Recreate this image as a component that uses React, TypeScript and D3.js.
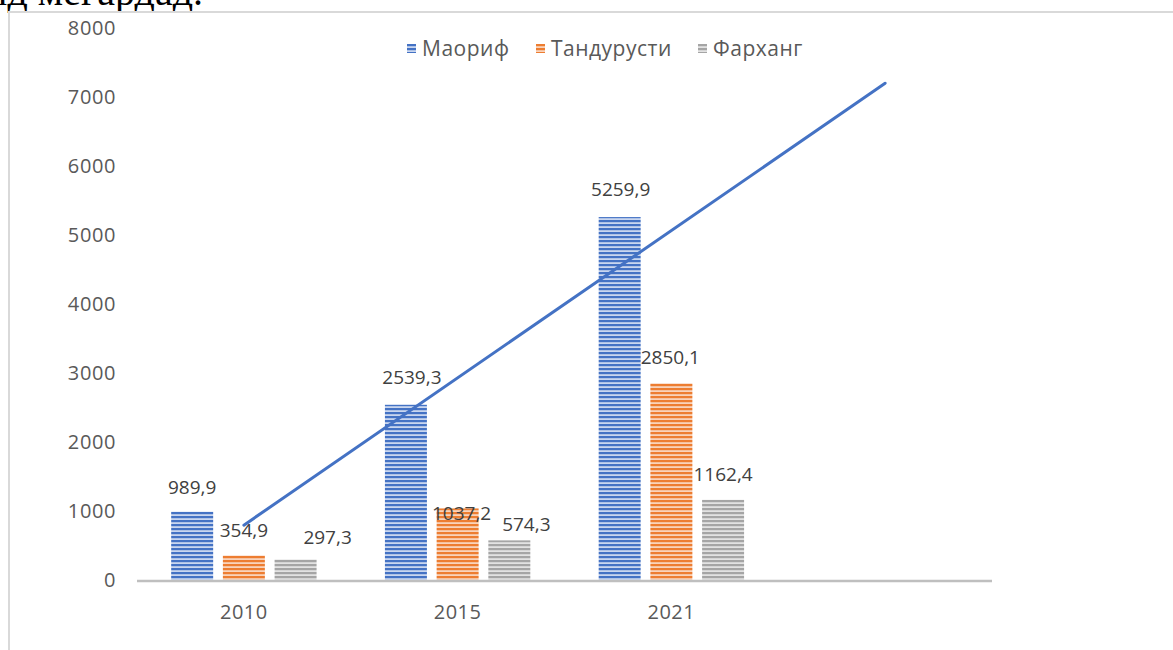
import React, { useEffect, useRef } from 'react';
import * as d3 from 'd3';

// categories (the last one is the empty slot used by the trendline forecast)
const years = ['2010', '2015', '2021', ''];
const seriesNames = ['Маориф', 'Тандурусти', 'Фарханг'];
const maorif = [989.9, 2539.3, 5259.9];
const tandurusti = [354.9, 1037.2, 2850.1];
const farhang = [297.3, 574.3, 1162.4];
const yTicks = [0, 1000, 2000, 3000, 4000, 5000, 6000, 7000, 8000];
const colors = ['#4472c4', '#ed7d31', '#a5a5a5'];
const lightColors = ['#c9d6ef', '#f9d3bb', '#e2e2e2'];
// label nudges [dx, dy] per series, per year, as placed in the original chart
const labelNudge = [
  [[0, 1], [6, -2], [1, -3]],
  [[0, 0], [4, 30], [-1, -1]],
  [[32, 3], [17, 9], [0, 0]],
];

const fmt = (v: number) => v.toFixed(1).replace('.', ',');

const App = () => {
  const ref = useRef<SVGSVGElement>(null);

  useEffect(() => {
    const svg = d3.select(ref.current);
    svg.selectAll('*').remove();

    const font = "'Open Sans', 'Noto Sans', sans-serif";
    const left = 137, right = 992, top = 28, bottom = 580;

    // page text cut off at the top
    svg
      .append('text')
      .attr('x', 203)
      .attr('y', 5)
      .attr('text-anchor', 'end')
      .style('font-family', "'Liberation Serif', serif")
      .style('font-size', '40px')
      .attr('fill', '#000')
      .text('анд мегардад.');

    // chart frame
    svg
      .append('rect')
      .attr('x', 9)
      .attr('y', 12)
      .attr('width', 1300)
      .attr('height', 800)
      .attr('fill', '#fff')
      .attr('stroke', '#d9d9d9')
      .attr('stroke-width', 2);

    // stripe patterns
    const defs = svg.append('defs');
    colors.forEach((c, i) => {
      const p = defs
        .append('pattern')
        .attr('id', `stripe${i}`)
        .attr('patternUnits', 'userSpaceOnUse')
        .attr('width', 8)
        .attr('height', 4);
      p.append('rect').attr('width', 8).attr('height', 4).attr('fill', lightColors[i]);
      p.append('rect').attr('y', 0).attr('width', 8).attr('height', 2.2).attr('fill', c);
    });

    const x = d3.scaleBand().domain(years).range([left, right]).padding(0);
    const xSub = d3
      .scaleBand()
      .domain(seriesNames)
      .range([0, 145.4])
      .paddingInner(0.188)
      .paddingOuter(0);
    const groupOffset = (x.bandwidth() - 145.4) / 2;
    const y = d3.scaleLinear().domain([0, 8000]).range([bottom, top]);

    // y tick labels
    svg
      .append('g')
      .selectAll('text')
      .data(yTicks)
      .enter()
      .append('text')
      .attr('x', 116)
      .attr('y', (d) => y(d))
      .attr('dy', '0.35em')
      .attr('text-anchor', 'end')
      .style('font-family', font)
      .style('font-size', '20px')
      .style('letter-spacing', '0.6px')
      .attr('fill', '#595959')
      .text((d) => d);

    // x labels
    svg
      .append('g')
      .selectAll('text')
      .data(years.filter((d) => d !== ''))
      .enter()
      .append('text')
      .attr('x', (d) => (x(d) as number) + x.bandwidth() / 2)
      .attr('y', 612)
      .attr('dy', '0.35em')
      .attr('text-anchor', 'middle')
      .style('font-family', font)
      .style('font-size', '20px')
      .style('letter-spacing', '0.5px')
      .attr('fill', '#595959')
      .text((d) => d);

    const allSeries = [maorif, tandurusti, farhang];

    // bars
    allSeries.forEach((vals, si) => {
      svg
        .append('g')
        .selectAll('rect')
        .data(vals)
        .enter()
        .append('rect')
        .attr('x', (d, i) => (x(years[i]) as number) + groupOffset + (xSub(seriesNames[si]) as number))
        .attr('y', (d) => y(d))
        .attr('width', xSub.bandwidth())
        .attr('height', (d) => y(0) - y(d))
        .attr('fill', `url(#stripe${si})`);
    });

    // axis line
    svg
      .append('line')
      .attr('x1', left)
      .attr('x2', right)
      .attr('y1', y(0) + 1)
      .attr('y2', y(0) + 1)
      .attr('stroke', '#bfbfbf')
      .attr('stroke-width', 2.5);

    // data labels
    allSeries.forEach((vals, si) => {
      svg
        .append('g')
        .selectAll('text')
        .data(vals)
        .enter()
        .append('text')
        .attr(
          'x',
          (d, i) =>
            (x(years[i]) as number) +
            groupOffset +
            (xSub(seriesNames[si]) as number) +
            xSub.bandwidth() / 2 +
            labelNudge[si][i][0]
        )
        .attr('y', (d, i) => y(d) - 25 + labelNudge[si][i][1])
        .attr('dy', '0.35em')
        .attr('text-anchor', 'middle')
        .style('font-family', font)
        .style('font-size', '19px')
        .attr('fill', '#404040')
        .text((d) => fmt(d));
    });

    // linear trendline of Маориф, forecast one period forward
    const xs = maorif.map((_, i) => i + 1);
    const mx = d3.mean(xs) as number;
    const my = d3.mean(maorif) as number;
    const slope =
      d3.sum(xs, (xi, i) => (xi - mx) * (maorif[i] - my)) / d3.sum(xs, (xi) => (xi - mx) ** 2);
    const icpt = my - slope * mx;
    const trend = years.map((yr, i) => ({ cat: yr, v: icpt + slope * (i + 1) }));
    const line = d3
      .line<{ cat: string; v: number }>()
      .x((d) => (x(d.cat) as number) + x.bandwidth() / 2)
      .y((d) => y(d.v));
    svg
      .append('path')
      .datum([trend[0], trend[trend.length - 1]])
      .attr('d', line)
      .attr('fill', 'none')
      .attr('stroke', '#4472c4')
      .attr('stroke-width', 3)
      .attr('stroke-linecap', 'round');

    // legend
    const legendX = [407, 536, 698];
    const lg = svg.append('g');
    seriesNames.forEach((name, i) => {
      lg.append('rect')
        .attr('x', legendX[i])
        .attr('y', 44)
        .attr('width', 9)
        .attr('height', 9)
        .attr('fill', `url(#stripe${i})`);
      lg.append('text')
        .attr('x', legendX[i] + 15)
        .attr('y', 49)
        .attr('dy', '0.35em')
        .style('font-family', font)
        .style('font-size', '21px')
        .style('letter-spacing', '0.5px')
        .attr('fill', '#595959')
        .text(name);
    });
  }, []);

  return (
    <svg
      ref={ref}
      width={1173}
      height={650}
      style={{ position: 'absolute', left: 0, top: 0, background: '#fff' }}
    />
  );
};

export default App;
